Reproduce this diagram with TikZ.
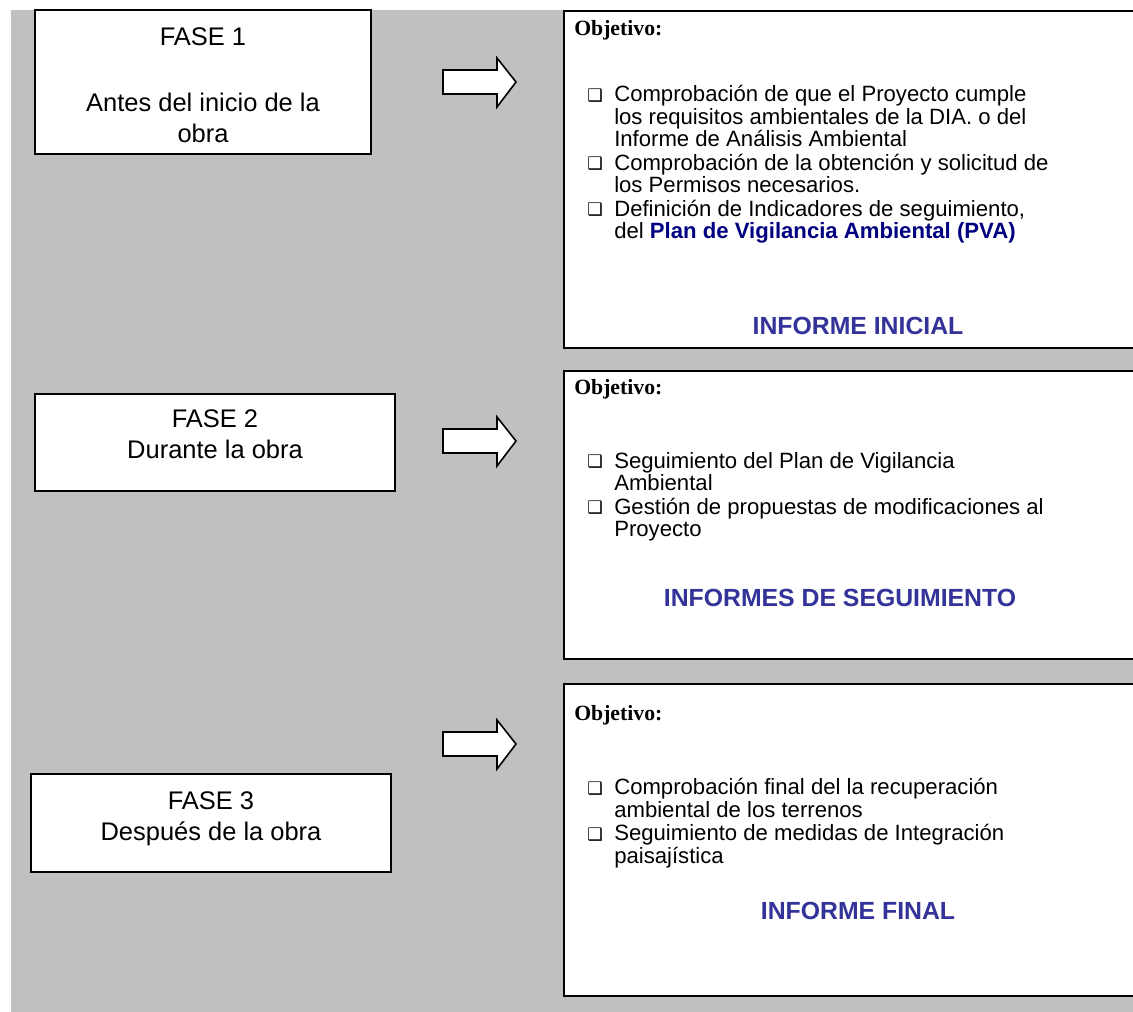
\documentclass[tikz,border=0pt]{standalone}
\usepackage{fontspec}
\setmainfont{Liberation Sans}
\newfontfamily\timesfont{Liberation Serif}
\newfontfamily\dingfont{DejaVu Sans}

\definecolor{fondo}{RGB}{192,192,192}
\definecolor{informe}{RGB}{51,51,153}
\definecolor{pva}{RGB}{0,0,128}

\tikzset{
  fasebox/.style={draw, line width=1.2pt, fill=white, inner sep=0pt},
  fasetxt/.style={inner sep=0pt, align=center, font=\fontsize{19.1}{23.5}\selectfont},
  objbox/.style={draw, line width=1.2pt, fill=white, anchor=north west, inner sep=0pt},
  objtit/.style={anchor=base west, inner sep=0pt, font=\timesfont\bfseries\fontsize{16.3}{17}\selectfont},
  itemtxt/.style={anchor=base west, inner sep=0pt, align=left, font=\fontsize{16.6}{17.2}\selectfont},
  tick/.style={anchor=base west, inner sep=0pt, font=\dingfont\fontsize{13}{13}\selectfont},
  informe/.style={anchor=base, inner sep=0pt, text=informe, font=\bfseries\fontsize{18.6}{20}\selectfont},
  flecha/.style={draw, line width=1.2pt, fill=white, line join=miter}
}

\begin{document}
\begin{tikzpicture}[x=0.75pt,y=0.75pt,yscale=-1,xscale=1]
\useasboundingbox (0,0) rectangle (1133,1012);
\clip (0,0) rectangle (1133,1012);

%Background
\fill[fondo] (11,10) rectangle (1133,1012);

%Shape: Fase boxes
\node[fasebox, minimum width=252pt, minimum height=108pt] (fase1) at (203,82) {};
\node[fasebox, minimum width=270pt, minimum height=72.75pt] (fase2) at (215,442.5) {};
\node[fasebox, minimum width=270pt, minimum height=73.5pt] (fase3) at (211,823) {};

% Text Node: fases
\node[fasetxt] (fase1txt) at ([yshift=2.5pt]fase1.center) {FASE 1\\[26pt]Antes del inicio de la\\obra};
\node[fasetxt] (fase2txt) at ([yshift=-6pt]fase2.center) {FASE 2\\Durante la obra};
\node[fasetxt] (fase3txt) at ([yshift=-3pt]fase3.center) {FASE 3\\Después de la obra};

%Shape: Right Arrows
\draw[flecha] (443,70) -- (497,70) -- (497,58) -- (516,82) -- (497,107) -- (497,94) -- (443,94) -- cycle;
\draw[flecha] (443,429) -- (497,429) -- (497,417) -- (516,441) -- (497,466) -- (497,453) -- (443,453) -- cycle;
\draw[flecha] (443,732) -- (497,732) -- (497,720) -- (516,744) -- (497,769) -- (497,756) -- (443,756) -- cycle;

%Shape: Objetivo boxes
\node[objbox, minimum width=432.75pt, minimum height=252.75pt] (obj1) at (563,10) {};
\node[objbox, minimum width=432.75pt, minimum height=216pt] (obj2) at (563,370) {};
\node[objbox, minimum width=432.75pt, minimum height=234pt] (obj3) at (563,683) {};

% Text Node: box 1
\node[objtit] (tit1) at (574,36) {Objetivo:};
\node[tick] (b11) at (587,102) {❑};
\node[itemtxt] (t11) at (614,147) {Comprobación de que el Proyecto cumple\\los requisitos ambientales de la DIA. o del\\Informe de Análisis Ambiental};
\node[tick] (b12) at (587,170) {❑};
\node[itemtxt] (t12) at (614,193) {Comprobación de la obtención y solicitud de\\los Permisos necesarios.};
\node[tick] (b13) at (587,216) {❑};
\node[itemtxt] (t13) at (614,239) {Definición de Indicadores de seguimiento,\\del {\bfseries\color{pva}Plan de Vigilancia Ambiental (PVA)}};
\node[informe] (inf1) at (858,335) {INFORME INICIAL};

% Text Node: box 2
\node[objtit] (tit2) at (574,395) {Objetivo:};
\node[tick] (b21) at (587,468) {❑};
\node[itemtxt] (t21) at (614,491) {Seguimiento del Plan de Vigilancia\\Ambiental};
\node[tick] (b22) at (587,514) {❑};
\node[itemtxt] (t22) at (614,537) {Gestión de propuestas de modificaciones al\\Proyecto};
\node[informe] (inf2) at (840,607) {INFORMES DE SEGUIMIENTO};

% Text Node: box 3
\node[objtit] (tit3) at (574,720) {Objetivo:};
\node[tick] (b31) at (587,794) {❑};
\node[itemtxt] (t31) at (614,817) {Comprobación final del la recuperación\\ambiental de los terrenos};
\node[tick] (b32) at (587,840) {❑};
\node[itemtxt] (t32) at (614,863) {Seguimiento de medidas de Integración\\paisajística};
\node[informe] (inf3) at (858,919) {INFORME FINAL};
\end{tikzpicture}
\end{document}
